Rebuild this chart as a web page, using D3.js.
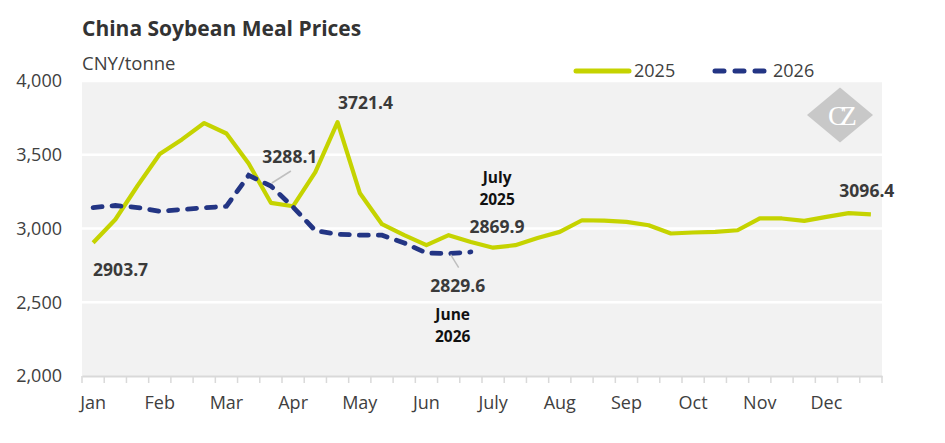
<!DOCTYPE html>
<html>
<head>
<meta charset="utf-8">
<script src="https://cdn.jsdelivr.net/npm/d3@7"></script>
<style>
  body { margin: 0; background: #fff; }
  svg { font-family: "Open Sans", "Noto Sans", sans-serif; }
</style>
</head>
<body>
<div id="graphic"></div>
<script>
// month labels, one per 3 dekads
const months = ["Jan", "Feb", "Mar", "Apr", "May", "Jun", "July", "Aug", "Sep", "Oct", "Nov", "Dec"];

// dekad prices, CNY/tonne
const prices2025 = [
    2903.7, 3061, 3290, 3505, 3604, 3715, 3644, 3441, 3174, 3151,
    3382, 3721.4, 3241, 3029, 2955, 2887, 2955, 2909, 2869.9, 2887,
    2935, 2977, 3056, 3054, 3045, 3022, 2966, 2973, 2977, 2988,
    3068, 3068, 3052, 3079, 3104, 3096.4
];
const prices2026 = [
    3142, 3156, 3142, 3117, 3129, 3140, 3151, 3360, 3288.1, 3145,
    2985, 2961, 2955, 2955, 2902, 2834, 2829.6, 2841
];

const yTicks = [2000, 2500, 3000, 3500, 4000];

const W = 945, H = 443;
const margin = { top: 81, right: 63, bottom: 67, left: 82 },
    width = W - margin.left - margin.right,
    height = H - margin.top - margin.bottom;

const svg = d3.select("#graphic")
    .append("svg")
    .attr("width", W)
    .attr("height", H);

svg.append("text")
    .attr("x", 82).attr("y", 36)
    .attr("font-size", "21px")
    .attr("font-weight", 700)
    .attr("fill", "#333")
    .text("China Soybean Meal Prices");

svg.append("text")
    .attr("x", 82).attr("y", 70)
    .attr("font-size", "18.5px")
    .attr("fill", "#404040")
    .text("CNY/tonne");

const g = svg.append("g")
    .attr("transform", `translate(${margin.left},${margin.top})`);

const idx = d3.range(36);
const x = d3.scaleBand().domain(idx).range([0, width]);
const y = d3.scaleLinear().domain([2000, 4000]).range([height, 0]);
const cx = i => x(i) + x.bandwidth() / 2;

g.append("rect")
    .attr("width", width).attr("height", height)
    .attr("fill", "#f2f2f2");

g.append("g")
    .selectAll("line")
    .data(yTicks.slice(1))
    .join("line")
    .attr("x1", 0).attr("x2", width)
    .attr("y1", d => y(d)).attr("y2", d => y(d))
    .attr("stroke", "#fff")
    .attr("stroke-width", 2.5);

// y axis
const yAxis = g.append("g")
    .call(d3.axisLeft(y).tickValues(yTicks).tickFormat(d3.format(",")).tickSize(0).tickPadding(20));
yAxis.select(".domain").remove();
yAxis.selectAll("text")
    .attr("font-size", "18px")
    .attr("font-family", "Open Sans")
    .attr("fill", "#404040");

// x axis
const xAxis = g.append("g")
    .attr("transform", `translate(0,${height})`)
    .call(d3.axisBottom(x)
        .tickValues(idx.filter(i => i % 3 === 0))
        .tickFormat(i => months[i / 3])
        .tickSize(0)
        .tickPadding(20));
xAxis.select(".domain")
    .attr("stroke", "#d9d9d9")
    .attr("stroke-width", 2);
xAxis.selectAll("text")
    .attr("font-size", "18px")
    .attr("font-family", "Open Sans")
    .attr("fill", "#404040");
xAxis.selectAll(".edge")
    .data(d3.range(37))
    .join("line")
    .attr("class", "edge")
    .attr("x1", i => i * x.step()).attr("x2", i => i * x.step())
    .attr("y1", 0).attr("y2", 7)
    .attr("stroke", "#d9d9d9")
    .attr("stroke-width", 1.5);

// logo
const logo = g.append("g").attr("transform", `translate(${width - 42},${34})`);
logo.append("path")
    .attr("d", "M0,-27.5 L33,0 L0,27.5 L-33,0 Z")
    .attr("fill", "#c8c8c8");
logo.append("text")
    .attr("x", -1).attr("y", 10)
    .attr("text-anchor", "middle")
    .attr("font-family", "Liberation Serif")
    .attr("font-size", "28px")
    .attr("letter-spacing", "-7px")
    .attr("fill", "#fff")
    .text("CZ");

const line = d3.line()
    .x((d, i) => cx(i))
    .y(d => y(d));

g.append("path")
    .datum(prices2025)
    .attr("d", line)
    .attr("fill", "none")
    .attr("stroke", "#c5d300")
    .attr("stroke-width", 4.2)
    .attr("stroke-linejoin", "round");

g.append("path")
    .datum(prices2026)
    .attr("d", line)
    .attr("fill", "none")
    .attr("stroke", "#233584")
    .attr("stroke-width", 4.8)
    .attr("stroke-linecap", "round")
    .attr("stroke-dasharray", "9,10");

// annotations
const valueLabel = (i, v, dx, dy, anchor) => g.append("text")
    .attr("x", cx(i) + dx)
    .attr("y", y(v) + dy)
    .attr("text-anchor", anchor)
    .attr("font-size", "17.5px")
    .attr("font-weight", 700)
    .attr("fill", "#3a3a3a")
    .text(v.toFixed(1));

valueLabel(0, prices2025[0], 0, 33, "start");
valueLabel(11, prices2025[11], 28, -13, "middle");
valueLabel(8, prices2026[8], 19, -23, "middle");
valueLabel(16, prices2026[16], 9, 38, "middle");
valueLabel(18, prices2025[18], 4, -15, "middle");
valueLabel(35, prices2025[35], -4, -17, "middle");

const leader = (i, v, x1, y1, x2, y2) => g.append("line")
    .attr("x1", cx(i) + x1).attr("y1", y(v) + y1)
    .attr("x2", cx(i) + x2).attr("y2", y(v) + y2)
    .attr("stroke", "#bfbfbf")
    .attr("stroke-width", 1.5);
leader(8, prices2026[8], 1, -3, 20, -15);
leader(16, prices2026[16], 2, 1, 10, 14);

const stacked = (i, v, lines, dy) => g.append("text")
    .attr("x", cx(i))
    .attr("y", y(v) + dy)
    .attr("text-anchor", "middle")
    .attr("font-size", "15.5px")
    .attr("font-weight", 700)
    .attr("fill", "#111")
    .selectAll("tspan")
    .data(lines)
    .join("tspan")
    .attr("x", cx(i) + 4)
    .attr("dy", (d, k) => k === 0 ? 0 : 22)
    .text(d => d);
stacked(18, prices2025[18], ["July", "2025"], -65);
stacked(16, prices2026[16], ["June", "2026"], 66);

// legend
const legend = svg.append("g").attr("transform", "translate(576,71)");
legend.append("line")
    .attr("x1", 0).attr("x2", 53)
    .attr("stroke", "#c5d300").attr("stroke-width", 5).attr("stroke-linecap", "round");
legend.append("text")
    .attr("x", 58).attr("y", 6)
    .attr("font-size", "18px").attr("fill", "#404040")
    .text("2025");
legend.append("line")
    .attr("x1", 139).attr("x2", 190)
    .attr("stroke", "#233584").attr("stroke-width", 5).attr("stroke-linecap", "round")
    .attr("stroke-dasharray", "9,11");
legend.append("text")
    .attr("x", 197).attr("y", 6)
    .attr("font-size", "18px").attr("fill", "#404040")
    .text("2026");
</script>
</body>
</html>
